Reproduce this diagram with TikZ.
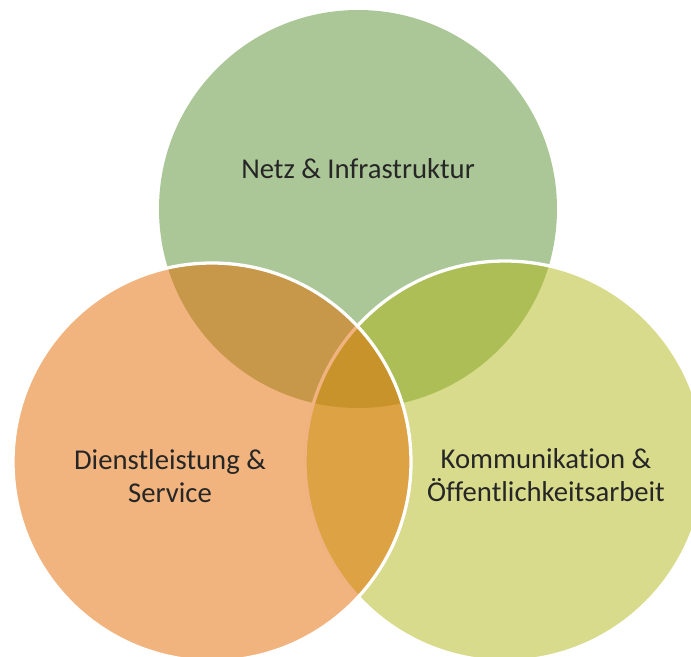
\documentclass[tikz,border=0pt]{standalone}
\usepackage{fontspec}
\setmainfont{Carlito}[Ligatures=NoCommon]
\usepackage{tikz}
\usepackage{xcolor}

\definecolor{netzgreen}{RGB}{87,143,47}
\definecolor{kommolive}{RGB}{177,183,23}
\definecolor{dienstorange}{RGB}{227,105,0}

\begin{document}
\begin{tikzpicture}[
    x=0.03cm, y=-0.03cm,
    every node/.style={align=center, text=black!85, font=\fontsize{24.5}{28}\selectfont},
    venn/.style={fill opacity=0.5},
    rim/.style={draw=white, line width=2.8pt}
]
  \useasboundingbox (0,0) rectangle (691,657);
  \clip (0,0) rectangle (691,657);

  % Three overlapping sets (top, right, then left on top)
  \fill[venn, fill=netzgreen] (358,209) circle[radius=199];
  \path[venn, fill=kommolive, rim] (505,461) circle[radius=200];
  \path[venn, fill=dienstorange, rim] (212,462) circle[radius=199];

  % Set labels
  \node (netz)   at (358,169) {Netz \& Infrastruktur};
  \node (dienst) at (170,476) {Dienstleistung \&\\Service};
  \node (komm)   at (546,475) {Kommunikation \&\\Öffentlichkeitsarbeit};
\end{tikzpicture}
\end{document}
